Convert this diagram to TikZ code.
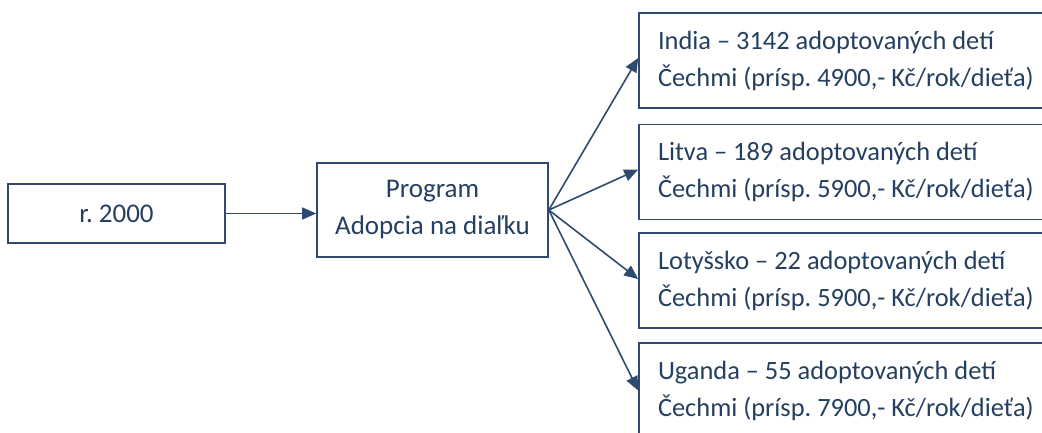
\documentclass[tikz,border=0pt]{standalone}
\usepackage{fontspec}
\setmainfont{Carlito}
\usetikzlibrary{arrows.meta}
\definecolor{linec}{HTML}{2F4A6E}
\definecolor{textc}{HTML}{243F60}
\frenchspacing
\begin{document}
\begin{tikzpicture}[x=1pt,y=-1pt,
  box/.style={draw=linec,line width=1.6pt,rectangle,inner sep=0pt,text=textc,
    font=\fontsize{27}{37}\selectfont\frenchspacing},
  rbox/.style={box,font=\fontsize{26.4}{37}\selectfont\frenchspacing,minimum height=95pt,inner xsep=19pt,text width=395pt,align=flush left},
  conn/.style={draw=linec,line width=1.6pt,-{Triangle[length=14pt,width=12pt]}}]
\useasboundingbox (0,0) rectangle (1042,432);
\node[box,minimum width=217pt,minimum height=59pt] (year) at (116.5,213.5) {r. 2000};
\node[box,minimum width=231pt,minimum height=94pt,align=center] (prog) at (432.5,210) {Program\\Adopcia na diaľku};
\node[rbox] (b1) at (855.5,60.5) {India – 3142 adoptovaných detí\\Čechmi (prísp. 4900,- Kč/rok/dieťa)};
\node[rbox] (b2) at (855.5,172) {Litva – 189 adoptovaných detí\\Čechmi (prísp. 5900,- Kč/rok/dieťa)};
\node[rbox] (b3) at (855.5,280.5) {Lotyšsko – 22 adoptovaných detí\\Čechmi (prísp. 5900,- Kč/rok/dieťa)};
\node[rbox] (b4) at (855.5,390.5) {Uganda – 55 adoptovaných detí\\Čechmi (prísp. 7900,- Kč/rok/dieťa)};
\draw[conn] (year.east) -- (year.east -| prog.west);
\draw[conn] (prog.east) -- ([yshift=2.5pt]b1.west);
\draw[conn] (prog.east) -- ([yshift=2.5pt]b2.west);
\draw[conn] (prog.east) -- ([yshift=1.5pt]b3.west);
\draw[conn] (prog.east) -- (b4.west);
\end{tikzpicture}
\end{document}
